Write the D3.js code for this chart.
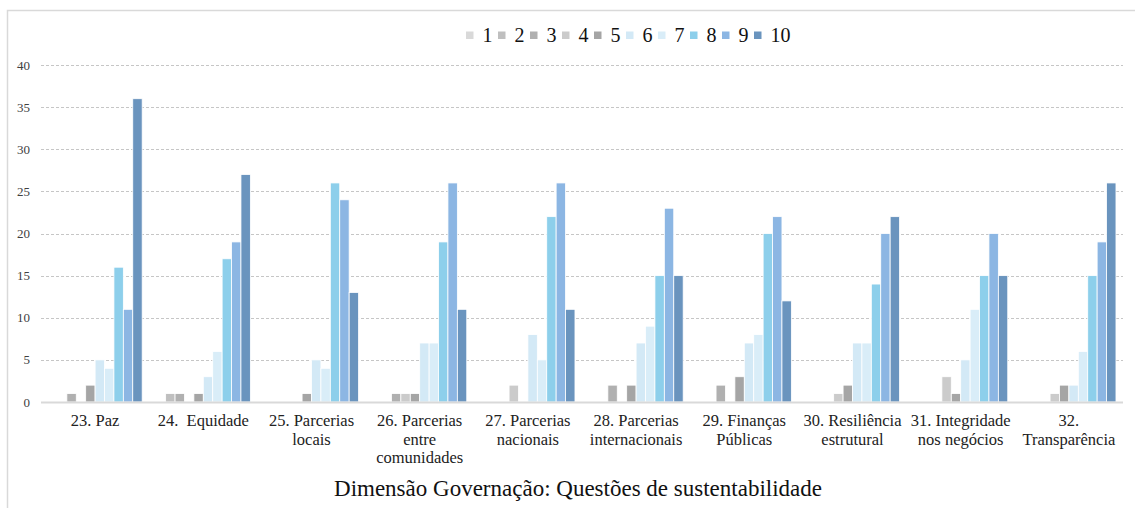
<!DOCTYPE html>
<meta charset="utf-8">
<style>
  body { margin: 0; background: #fff; }
  #chart { position: relative; width: 1135px; height: 508px; overflow: hidden; }
  #chart svg { position: absolute; left: 0; top: 0; display: block; }
  .lbl { position: absolute; font-family: 'Liberation Serif', 'Times New Roman', serif; white-space: pre; }
  .grid line { stroke: #c6c6c6; stroke-dasharray: 3,2; }
</style>
<div id="chart"><svg width="1135" height="508"></svg></div>
<script src="https://cdn.jsdelivr.net/npm/d3@7"></script>
<script>

  // categories (questoes) and one array per score 1..10
  var categories = [
    ["23. Paz"],
    ["24.  Equidade"],
    ["25. Parcerias", "locais"],
    ["26. Parcerias", "entre", "comunidades"],
    ["27. Parcerias", "nacionais"],
    ["28. Parcerias", "internacionais"],
    ["29. Finanças", "Públicas"],
    ["30. Resiliência", "estrutural"],
    ["31. Integridade", "nos negócios"],
    ["32.", "Transparência"]
  ];
  var seriesNames = ["1", "2", "3", "4", "5", "6", "7", "8", "9", "10"];
  var s1  = [0, 0, 0, 0, 0, 0, 0, 0, 0, 0];
  var s2  = [0, 1, 0, 0, 0, 0, 0, 0, 0, 0];
  var s3  = [1, 1, 0, 1, 0, 2, 2, 0, 0, 0];
  var s4  = [0, 0, 0, 1, 2, 0, 0, 1, 3, 1];
  var s5  = [2, 1, 1, 1, 0, 2, 3, 2, 1, 2];
  var s6  = [5, 3, 5, 7, 8, 7, 7, 7, 5, 2];
  var s7  = [4, 6, 4, 7, 5, 9, 8, 7, 11, 6];
  var s8  = [16, 17, 26, 19, 22, 15, 20, 14, 15, 15];
  var s9  = [11, 19, 24, 26, 26, 23, 22, 20, 20, 19];
  var s10 = [36, 27, 13, 11, 11, 15, 12, 22, 15, 26];
  var yTicks = [0, 5, 10, 15, 20, 25, 30, 35, 40];
  var xTitle = "Dimensão Governação: Questões de sustentabilidade";

  var allSeries = [s1, s2, s3, s4, s5, s6, s7, s8, s9, s10];
  var colors = ["#d9d9d9", "#bfbfbf", "#b0b0b0", "#cbcbcb", "#a5a5a5",
                "#d3e9f6", "#d9edf8", "#8dcfeb", "#8cb6e3", "#6a94be"];

  var chart = d3.select("#chart");
  var svg = chart.select("svg");
  var plotLeft = 41, plotRight = 1123, plotTop = 65, plotBottom = 402;

  // top of an html line box so that its baseline lands on `base` (Liberation Serif metrics)
  function boxTop(base, fs, lh) { return base - ((lh - 1.107 * fs) / 2 + 0.891 * fs); }

  // chart frame (only left + top visible in the crop)
  svg.append("path")
      .attr("d", "M7.5,508V10.5H1135")
      .attr("fill", "none")
      .attr("stroke", "#d9d9d9")
      .attr("stroke-width", 1.5);

  var x0 = d3.scaleBand()
      .domain(d3.range(categories.length))
      .range([plotLeft, plotRight])
      .paddingInner(0.13)
      .paddingOuter(0.065);

  var x1 = d3.scaleBand()
      .domain(seriesNames)
      .range([0, x0.bandwidth()]);

  var y = d3.scaleLinear()
      .domain([0, 40])
      .range([plotBottom, plotTop]);

  // gridlines
  svg.append("g")
      .attr("class", "grid")
    .selectAll("line")
    .data(yTicks.filter(function(d) { return d > 0; }))
    .enter().append("line")
      .attr("x1", plotLeft)
      .attr("x2", plotRight)
      .attr("y1", function(d) { return Math.round(y(d)) + 0.5; })
      .attr("y2", function(d) { return Math.round(y(d)) + 0.5; });

  chart.selectAll(".ytick")
    .data(yTicks)
    .enter().append("div")
      .attr("class", "lbl ytick")
      .style("left", "0px")
      .style("width", "30px")
      .style("text-align", "right")
      .style("font-size", "13px")
      .style("line-height", "13px")
      .style("color", "#404040")
      .style("top", function(d) { return boxTop(y(d) + 4.4, 13, 13) + "px"; })
      .text(function(d) { return d; });

  // bars
  var groups = svg.append("g").selectAll("g")
    .data(allSeries)
    .enter().append("g")
      .attr("fill", function(d, i) { return colors[i]; });

  groups.selectAll("rect")
    .data(function(d, i) { return d.map(function(v, j) { return {s: seriesNames[i], c: j, v: v}; }); })
    .enter().filter(function(d) { return d.v > 0; }).append("rect")
      .attr("x", function(d) { return x0(d.c) + x1(d.s); })
      .attr("width", x1.bandwidth())
      .attr("y", function(d) { return y(d.v); })
      .attr("height", function(d) { return y(0) - y(d.v); })
      .attr("stroke", "#fff")
      .attr("stroke-width", 0.8);

  // baseline
  svg.append("line")
      .attr("x1", plotLeft).attr("x2", plotRight)
      .attr("y1", y(0) + 0.5).attr("y2", y(0) + 0.5)
      .attr("stroke", "#d9d9d9")
      .attr("stroke-width", 2);

  // category labels (wrapped like the original)
  chart.selectAll(".cat")
    .data(categories)
    .enter().append("div")
      .attr("class", "lbl cat")
      .style("left", function(d, i) { return (x0(i) + x0.bandwidth() / 2) + "px"; })
      .style("top", boxTop(427, 16.5, 18.4) + "px")
      .style("transform", "translateX(-50%)")
      .style("text-align", "center")
      .style("font-size", "16.5px")
      .style("line-height", "18.4px")
      .style("color", "#222")
      .html(function(d) { return d.join("<br>"); });

  chart.append("div")
      .attr("class", "lbl")
      .style("left", "578px")
      .style("top", boxTop(496, 23, 23) + "px")
      .style("transform", "translateX(-50%)")
      .style("font-size", "23px")
      .style("line-height", "23px")
      .style("color", "#111")
      .text(xTitle);

  // legend
  var lx = 466;
  seriesNames.forEach(function(name, i) {
    svg.append("rect")
        .attr("x", lx).attr("y", 31.5)
        .attr("width", 7.5).attr("height", 7.5)
        .attr("fill", colors[i]);
    var t = chart.append("div")
        .attr("class", "lbl")
        .style("left", (lx + 16.5) + "px")
        .style("top", boxTop(42, 20, 20) + "px")
        .style("font-size", "20px")
        .style("line-height", "20px")
        .style("color", "#111")
        .text(name);
    lx += 16.5 + t.node().getBoundingClientRect().width + 5.5;
  });

</script>
